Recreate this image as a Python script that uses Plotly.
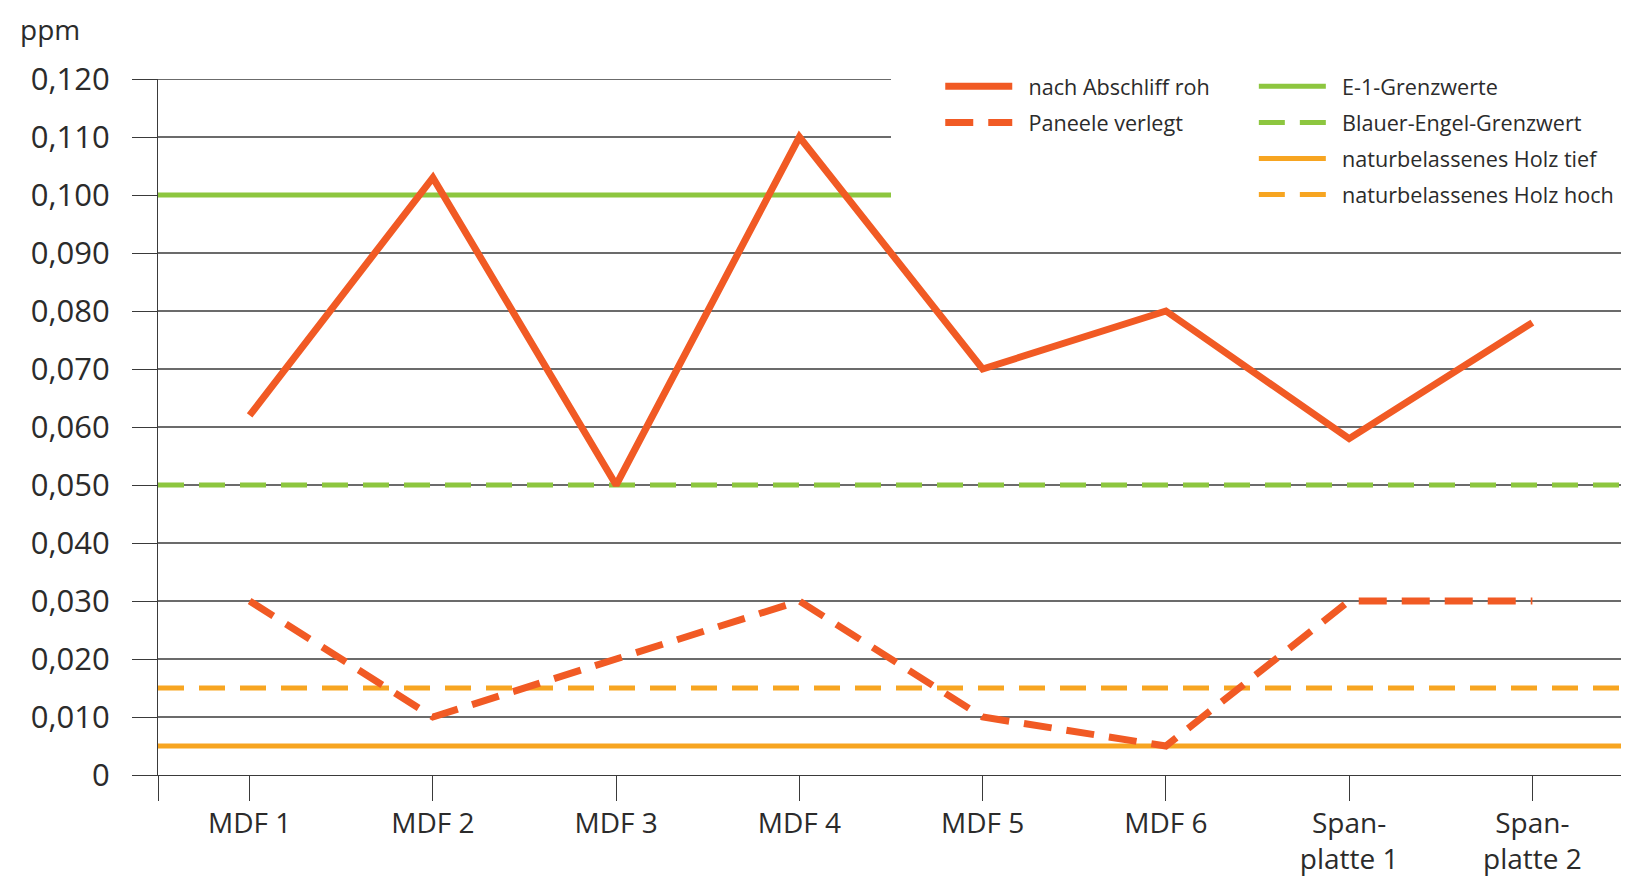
import plotly.graph_objects as go

categories = ["MDF 1", "MDF 2", "MDF 3", "MDF 4", "MDF 5", "MDF 6", "Span-<br>platte 1", "Span-<br>platte 2"]
abschliff_roh = [0.062, 0.103, 0.050, 0.110, 0.070, 0.080, 0.058, 0.078]
paneele_verlegt = [0.030, 0.010, 0.020, 0.030, 0.010, 0.005, 0.030, 0.030]
e1_grenzwert = 0.100
blauer_engel = 0.050
holz_tief = 0.005
holz_hoch = 0.015
y_ticks = [0, 0.01, 0.02, 0.03, 0.04, 0.05, 0.06, 0.07, 0.08, 0.09, 0.10, 0.11, 0.12]
y_ticktext = ["0", "0,010", "0,020", "0,030", "0,040", "0,050", "0,060", "0,070", "0,080", "0,090", "0,100", "0,110", "0,120"]

RED = "#F15A24"
GREEN = "#8DC63F"
ORANGE = "#F7A521"
GRID = "#3a3a3a"
TXT = "#2b2b2b"
FONT = "Open Sans"
PAD = "\u00a0\u00a0"

n = len(categories)
xs = list(range(n))
x_left, x_right = -0.5, n - 0.5
x_cut = 3.5

fig = go.Figure()

# reference lines
fig.add_trace(go.Scatter(x=[x_left, x_cut], y=[e1_grenzwert] * 2, mode="lines",
                         line=dict(color=GREEN, width=5), name=PAD + "E-1-Grenzwerte",
                         legend="legend2", legendrank=1, legendgroup="e1"))
fig.add_trace(go.Scatter(x=[x_left, x_right], y=[blauer_engel] * 2, mode="lines",
                         line=dict(color=GREEN, width=5, dash="26px,15px"), name=PAD + "Blauer-Engel-Grenzwert",
                         legend="legend2", legendrank=2, legendgroup="be"))
fig.add_trace(go.Scatter(x=[x_left, x_right], y=[holz_tief] * 2, mode="lines",
                         line=dict(color=ORANGE, width=5), name=PAD + "naturbelassenes Holz tief",
                         legend="legend2", legendrank=3, legendgroup="ht"))
fig.add_trace(go.Scatter(x=[x_left, x_right], y=[holz_hoch] * 2, mode="lines",
                         line=dict(color=ORANGE, width=5, dash="26px,15px"), name=PAD + "naturbelassenes Holz hoch",
                         legend="legend2", legendrank=4, legendgroup="hh"))
# data
fig.add_trace(go.Scatter(x=xs, y=abschliff_roh, mode="lines",
                         line=dict(color=RED, width=7), name=PAD + "nach Abschliff roh",
                         legend="legend", legendrank=1, legendgroup="ar"))
fig.add_trace(go.Scatter(x=xs, y=paneele_verlegt, mode="lines",
                         line=dict(color=RED, width=7, dash="28px,15px"), name=PAD + "Paneele verlegt",
                         legend="legend", legendrank=2, legendgroup="pv"))

# gridlines (upper ones interrupted by legend area)
for v in y_ticks[1:]:
    x1 = x_cut if v >= 0.0995 else x_right
    fig.add_shape(type="line", xref="x", yref="y", x0=x_left, x1=x1, y0=v, y1=v,
                  line=dict(color=GRID, width=1.3), layer="below")

legend_common = dict(xanchor="left", yanchor="top", xref="paper", yref="paper",
                     font=dict(family=FONT, size=21.6, color=TXT), bgcolor="rgba(0,0,0,0)",
                     itemwidth=67, tracegroupgap=5, traceorder="grouped")

fig.update_layout(
    width=1621, height=872,
    margin=dict(l=150, r=5, t=71, b=105, autoexpand=False),
    plot_bgcolor="white", paper_bgcolor="white",
    font=dict(family=FONT, color=TXT),
    showlegend=True,
    legend=dict(x=0.5336, y=1.019, **legend_common),
    legend2=dict(x=0.7475, y=1.019, **legend_common),
    xaxis=dict(range=[x_left, x_right], tickmode="array", automargin=False,
               tickvals=[x_left] + xs, ticktext=[""] + categories,
               showgrid=False, zeroline=False, showline=True, linecolor=GRID, linewidth=1.3,
               ticks="outside", ticklen=25, tickwidth=1.3, tickcolor=GRID,
               ticklabelstandoff=-2,
               tickfont=dict(family=FONT, size=28, color=TXT)),
    yaxis=dict(range=[0, 0.12], tickmode="array", tickvals=y_ticks, ticktext=y_ticktext,
               automargin=False,
               showgrid=False, zeroline=False, showline=True, linecolor=GRID, linewidth=1.3,
               ticks="outside", ticklen=25, tickwidth=1.3, tickcolor=GRID, ticklabelstandoff=16,
               tickfont=dict(family=FONT, size=31, color=TXT)),
    annotations=[dict(text="ppm", xref="paper", yref="paper", x=-0.0948, y=1.101,
                      xanchor="left", yanchor="top", showarrow=False, borderpad=0,
                      font=dict(family=FONT, size=28, color=TXT))],
)

fig.write_html("out.html")
